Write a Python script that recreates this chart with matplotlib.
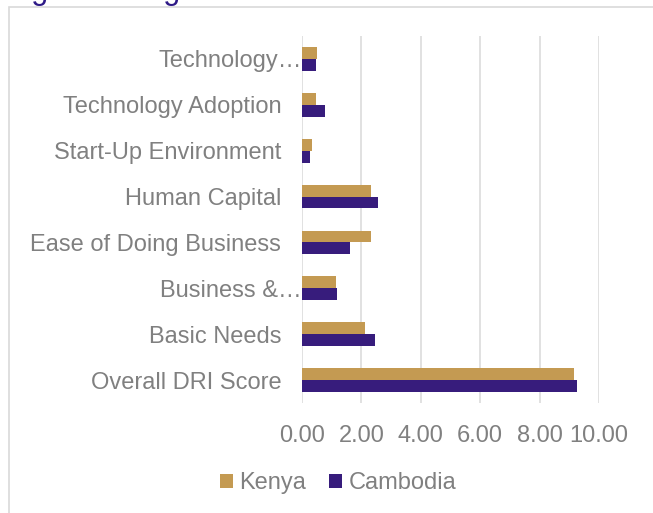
import matplotlib
matplotlib.use('Agg')
from matplotlib import pyplot as plt
from matplotlib.patches import Rectangle
import numpy as np

categories = ['Overall DRI Score', 'Basic Needs', 'Business &\u2026', 'Ease of Doing Business',
              'Human Capital', 'Start-Up Environment', 'Technology Adoption', 'Technology\u2026']
kenya = [9.16, 2.13, 1.13, 2.32, 2.32, 0.32, 0.48, 0.50]
cambodia = [9.26, 2.47, 1.18, 1.60, 2.55, 0.27, 0.79, 0.48]
xticks = [0, 2, 4, 6, 8, 10]

plt.rcParams['font.family'] = ['Liberation Sans', 'DejaVu Sans']
grey = '#808080'
gold = '#C49A52'
purple = '#371C7C'

fig = plt.figure(figsize=(6.53, 5.13), dpi=100)
ax = fig.add_axes([302/653, 1 - 403/513, 297/653, 367/513])

y = np.arange(len(categories))
h = 0.26
ax.barh(y + h/2, kenya, height=h, color=gold, label='Kenya', zorder=3)
ax.barh(y - h/2, cambodia, height=h, color=purple, label='Cambodia', zorder=3)

ax.set_xlim(0, 10)
ax.set_ylim(-0.5, len(categories) - 0.5)
ax.set_xticks(xticks)
ax.set_xticklabels([f'{v:.2f}' for v in xticks])
ax.set_yticks(y)
ax.set_yticklabels(categories)
ax.tick_params(axis='both', length=0, labelsize=17, labelcolor=grey)
ax.tick_params(axis='y', pad=15)
ax.tick_params(axis='x', pad=16)
for i, lab in enumerate(categories):
    if lab.endswith('\u2026'):
        ax.yaxis.get_major_ticks()[i].set_pad(0)

ax.grid(axis='x', color='#D9D9D9', linewidth=1.1, zorder=0)
for s in ax.spines.values():
    s.set_visible(False)

leg = fig.legend(loc='center', bbox_to_anchor=(338/653, 1 - 483/513), ncol=2, frameon=False,
                 fontsize=17, handlelength=0.55, handleheight=0.55, handletextpad=0.25,
                 columnspacing=1.0, borderaxespad=0)
for t in leg.get_texts():
    t.set_color(grey)

# outer chart border, runs off the right and bottom edges
fig.patches.append(Rectangle((9/653, -0.2), 2, 1.2 - 7/513, transform=fig.transFigure,
                             fill=False, edgecolor='#D9D9D9', linewidth=1.2))

# title, mostly cut off at the top of the picture like in the source
fig.text(6/653, 1 + 1/513, 'Figure 1: Digital Readiness Index', fontsize=22,
         color='#2E1A87', va='baseline', ha='left')

fig.savefig('out.png', dpi=100)
